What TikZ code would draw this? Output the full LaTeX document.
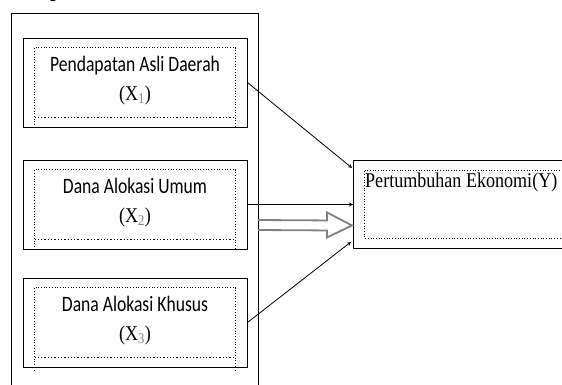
\documentclass[tikz,border=0pt]{standalone}
\usepackage{fontspec}
\setmainfont{Carlito}
\newfontfamily\narrowsans[FakeStretch=0.8]{Carlito}
\newfontfamily\timesfont[FakeStretch=0.86]{Liberation Serif}
\usetikzlibrary{arrows.meta,calc}
\tikzset{>=stealth}
\tikzset{
  varbox/.style={draw, line width=0.9pt, minimum width=224pt, minimum height=89pt, inner sep=0pt},
  vartext/.style={anchor=base, inner sep=0pt, font=\narrowsans\fontsize{22}{22}\selectfont},
  dotline/.style={dotted, line width=0.7pt},
  link/.style={->, line width=0.8pt},
}
\newcommand{\xvar}[1]{{\timesfont\fontsize{21}{21}\selectfont (X\textsubscript{\color{gray}#1})}}

\begin{document}
\begin{tikzpicture}[x=1pt, y=-1pt]
    \useasboundingbox (0,0) rectangle (562,385);
    \node [anchor=base, font=\fontsize{18}{18}\selectfont, inner sep=0pt] (gfrag) at (53,-1.5) {g};
    % kerangka variabel bebas
    \draw [line width=0.8pt] (11,395) -- (11,13) -- (258,13) -- (258,395);
    \coordinate (outerE) at (258,225);

    \node [varbox] (pad) at (135,82.5) {};
    \node [varbox] (dau) at (135,204.5) {};
    \node [varbox] (dak) at (135,322.5) {};

    \foreach \n/\t/\i in {pad/Pendapatan Asli Daerah/1, dau/Dana Alokasi Umum/2, dak/Dana Alokasi Khusus/3} {
        \node [vartext] (\n-nama) at ($(\n.north)+(0,34)$) {\t};
        \node [vartext] (\n-x) at ($(\n.north)+(0,63)$) {\xvar{\i}};
        % garis titik-titik di dalam kotak
        \draw [dotline] ($(\n.south west)+(12,0)$) -- ($(\n.north west)+(12,10)$) -- ($(\n.north east)+(-12,10)$) -- ($(\n.south east)+(-12,0)$);
        \draw [dotline, line width=1.3pt] ($(\n.south west)+(12,-10)$) -- ($(\n.south east)+(-12,-10)$);
    }
    \draw [dotline] (dak.south west) ++(12,0) -- ++(0,5);
    \draw [dotline] (dak.south east) ++(-12,0) -- ++(0,5);

    % variabel terikat
    \node [draw, line width=0.9pt, anchor=north west, minimum width=230pt, minimum height=88pt] (pe) at (353,160) {};
    \draw [dotline] ($(pe.north east)+(0,10)$) -- ($(pe.north west)+(11,10)$) -- ($(pe.south west)+(11,-11)$) -- ($(pe.south east)+(0,-11)$);
    \node [anchor=base west, font=\timesfont\fontsize{21}{21}\selectfont, inner sep=0pt] (pelabel) at ($(pe.north west)+(12,27)$) {Pertumbuhan Ekonomi(Y)};

    % panah
    \draw [link] (pad.east) -- ($(pe.north west)+(-1,8)$);
    \draw [link] (dau.east) -- (dau.east -| pe.west);
    \draw [link] (dak.east) -- ($(pe.south west)+(-2,-7)$);
    \coordinate (tipY) at ($(pe.west)+(-1,21)$);
    \draw [gray, line width=1.8pt, line join=miter] ($(outerE)+(0,-5)$) -- ($(tipY)+(-25,-5)$) -- ($(tipY)+(-25,-13)$) -- (tipY) -- ($(tipY)+(-25,12)$) -- ($(tipY)+(-25,5)$) -- ($(outerE)+(0,5)$);
\end{tikzpicture}
\end{document}
